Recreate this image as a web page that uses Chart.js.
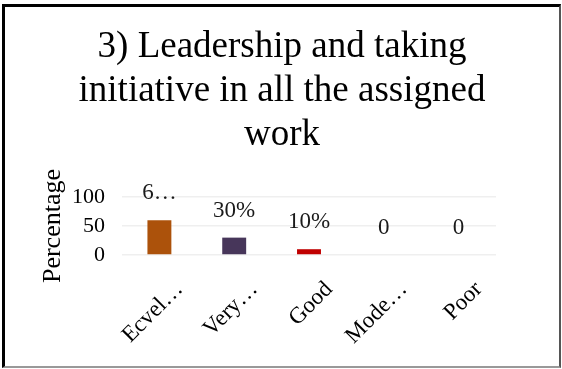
<!DOCTYPE html>
<html>
<head>
<meta charset="utf-8">
<script src="https://cdn.jsdelivr.net/npm/chart.js@4/dist/chart.umd.min.js"></script>
<style>
  html, body { margin: 0; padding: 0; background: #fff; }
  #frame {
    position: absolute; left: 2px; top: 4px;
    width: 554px; height: 359px;
    border-left: 3px solid #000; border-top: 3px solid #000;
    border-right: 2px solid #555; border-bottom: 2px solid #999;
  }
  #c { display: block; }
</style>
</head>
<body>
<div id="frame"><canvas id="c" width="554" height="359"></canvas></div>
<script>
// ---- data ----
const titleLines = ["3) Leadership and taking", "initiative in all the assigned", "work"];
const categories = ["Ecvellent", "Very good", "Good", "Moderate", "Poor"];
const tickLabels = ["Ecvel\u2026", "Very\u2026", "Good", "Mode\u2026", "Poor"];
const values = [60, 30, 10, 0, 0];
const valueLabels = ["6\u2026", "30%", "10%", "0", "0"];
const barColors = ["#AC520B", "#47365A", "#C00000", "#7F7F7F", "#7F7F7F"];
const yTicks = [0, 50, 100];
const yTitle = "Percentage";

const FONT = "'Liberation Serif', 'Times New Roman', serif";

const valueLabelPlugin = {
  id: 'valueLabels',
  afterDatasetsDraw(chart) {
    const ctx = chart.ctx;
    const meta = chart.getDatasetMeta(0);
    ctx.save();
    ctx.font = "23px " + FONT;
    ctx.fillStyle = "#1a1a1a";
    ctx.textAlign = "center";
    ctx.textBaseline = "middle";
    meta.data.forEach((bar, i) => {
      ctx.fillText(valueLabels[i], bar.x, bar.y - 27);
    });
    ctx.restore();
  }
};

new Chart(document.getElementById('c'), {
  type: 'bar',
  data: {
    labels: categories,
    datasets: [{
      data: values,
      backgroundColor: barColors,
      borderWidth: 0,
      categoryPercentage: 1.0,
      barPercentage: 0.32
    }]
  },
  options: {
    responsive: false,
    animation: false,
    devicePixelRatio: 1,
    layout: { padding: 0 },
    plugins: {
      legend: { display: false },
      tooltip: { enabled: false },
      title: {
        display: true,
        text: titleLines,
        color: "#000",
        font: { family: FONT, size: 37, weight: 'normal', lineHeight: 1.19 },
        padding: { top: 18, bottom: 40 }
      }
    },
    scales: {
      x: {
        grid: { display: false },
        border: { display: false },
        ticks: {
          callback: (v, i) => tickLabels[i],
          color: "#000",
          font: { family: FONT, size: 23 },
          minRotation: 45, maxRotation: 45,
          padding: 13,
          labelOffset: 20,
          autoSkip: false
        },
        afterFit: (s) => { s.height = 111; }
      },
      y: {
        min: 0, max: 100,
        afterBuildTicks: (s) => { s.ticks = yTicks.map(v => ({ value: v })); },
        grid: { color: "#EFEFEF", lineWidth: 1.5, drawTicks: false },
        border: { display: false },
        ticks: {
          color: "#000",
          font: { family: FONT, size: 22 },
          padding: 17,
          autoSkip: false
        },
        title: {
          display: true,
          text: yTitle,
          color: "#000",
          font: { family: FONT, size: 26 },
          padding: { top: 33, bottom: 0 }
        },
        afterFit: (s) => { s.width = 117; }
      },
      yRight: {
        position: 'right',
        display: true,
        grid: { display: false },
        border: { display: false },
        ticks: { display: false },
        afterFit: (s) => { s.width = 63; }
      }
    }
  },
  plugins: [valueLabelPlugin]
});
</script>
</body>
</html>
